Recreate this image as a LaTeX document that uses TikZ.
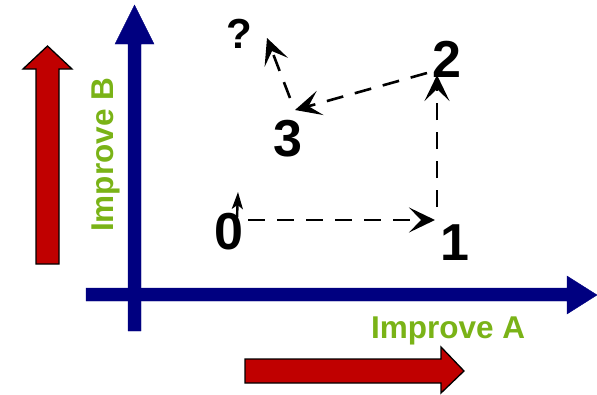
\documentclass[tikz,border=0pt]{standalone}
\usepackage{fontspec}
\setmainfont{Liberation Sans}
\usetikzlibrary{arrows.meta}
\definecolor{axisblue}{RGB}{0,0,128}
\definecolor{arrred}{RGB}{192,0,0}
\definecolor{lblgreen}{RGB}{122,179,23}
\tikzset{
  axis/.style={fill=axisblue,draw=axisblue,line width=0.4pt},
  bigarrow/.style={fill=arrred,draw=black,line width=1.3pt,line join=miter},
  lbl/.style={text=lblgreen,font=\fontsize{31.5}{32}\selectfont\bfseries,inner sep=0pt},
  digit/.style={font=\fontsize{52}{52}\selectfont\bfseries,inner sep=0pt,anchor=base},
  qmark/.style={font=\fontsize{42}{42}\selectfont\bfseries,inner sep=0pt,anchor=base},
  stepline/.style={line width=2.6pt,dash pattern=on 17pt off 12pt,
     -{Stealth[length=26pt,width=25pt,inset=12pt]}},
}
\begin{document}
\begin{tikzpicture}[x=1pt,y=-1pt]
\useasboundingbox (0,0) rectangle (597,394);
% red arrows
\path[bigarrow] (36,264) -- (59,264) -- (59,69) -- (72,69) -- (47.5,46) -- (23,69) -- (36,69) -- cycle;
\path[bigarrow] (245,359) -- (441,359) -- (441,347) -- (464,371) -- (441,393) -- (441,383) -- (245,383) -- cycle;
% axes
\path[axis] (128,331) -- (141,331) -- (141,44) -- (154,44) -- (134.5,5) -- (115,44) -- (128,44) -- cycle;
\path[axis] (86,288) -- (567,288) -- (567,276) -- (597,295) -- (567,314) -- (567,301) -- (86,301) -- cycle;
% labels
\node[lbl,anchor=base west] (la) at (371,338) {Improve A};
\node[lbl,anchor=base west,rotate=90] (lb) at (113,232) {Improve B};
% digits
\node[digit] (n0) at (229,249) {0};
\node[digit] (n1) at (455,260) {1};
\node[digit] (n2) at (447,77) {2};
\node[digit] (n3) at (288,156) {3};
\node[qmark] (nq) at (239,48) {?};
% connector points
\coordinate (s01) at (248,220);
\coordinate (e01) at (435,220);
\coordinate (s12) at (437,207);
\coordinate (e12) at (437,75);
\coordinate (s23) at (427,73);
\coordinate (e23) at (295,110);
\coordinate (s3q) at (290,98);
\coordinate (e3q) at (267,38);
\coordinate (s00) at (237,218);
\coordinate (e00) at (238,192);
\draw[stepline] (s01) -- (e01);
\draw[stepline] (s12) -- (e12);
\draw[stepline] (s23) -- (e23);
\draw[stepline] (s3q) -- (e3q);
\draw[line width=2.4pt,-{Stealth[length=17pt,width=11pt,inset=4pt]}] (s00) -- (e00);
\end{tikzpicture}
\end{document}
